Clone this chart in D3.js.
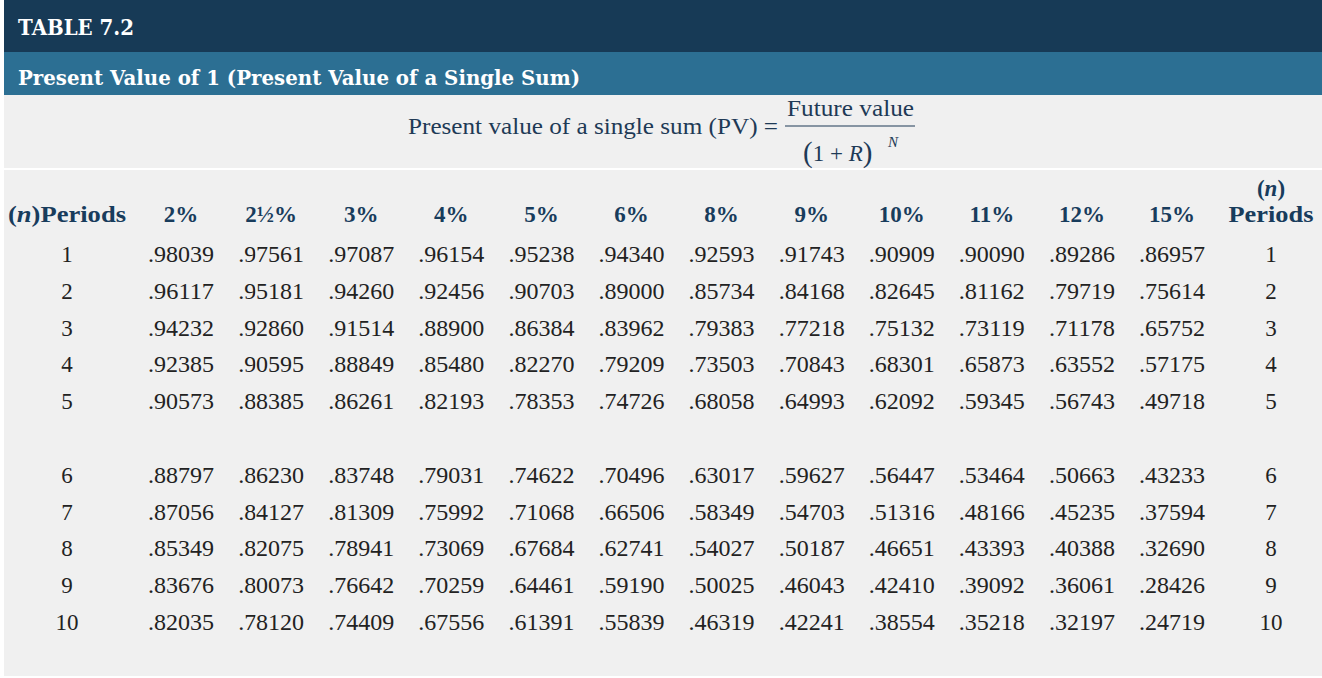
<!DOCTYPE html>
<html><head><meta charset="utf-8">
<script src="https://cdn.jsdelivr.net/npm/d3@7"></script>
<style>
html,body{margin:0;padding:0;background:#fff;}
svg{display:block;}
</style></head>
<body>
<svg id="c" width="1322" height="678"></svg>
<script>
const title = "TABLE 7.2";
const subtitle = "Present Value of 1 (Present Value of a Single Sum)";
const rates = ["2%","2½%","3%","4%","5%","6%","8%","9%","10%","11%","12%","15%"];
const periods = [1,2,3,4,5,6,7,8,9,10];
const row1  = [".98039",".97561",".97087",".96154",".95238",".94340",".92593",".91743",".90909",".90090",".89286",".86957"];
const row2  = [".96117",".95181",".94260",".92456",".90703",".89000",".85734",".84168",".82645",".81162",".79719",".75614"];
const row3  = [".94232",".92860",".91514",".88900",".86384",".83962",".79383",".77218",".75132",".73119",".71178",".65752"];
const row4  = [".92385",".90595",".88849",".85480",".82270",".79209",".73503",".70843",".68301",".65873",".63552",".57175"];
const row5  = [".90573",".88385",".86261",".82193",".78353",".74726",".68058",".64993",".62092",".59345",".56743",".49718"];
const row6  = [".88797",".86230",".83748",".79031",".74622",".70496",".63017",".59627",".56447",".53464",".50663",".43233"];
const row7  = [".87056",".84127",".81309",".75992",".71068",".66506",".58349",".54703",".51316",".48166",".45235",".37594"];
const row8  = [".85349",".82075",".78941",".73069",".67684",".62741",".54027",".50187",".46651",".43393",".40388",".32690"];
const row9  = [".83676",".80073",".76642",".70259",".64461",".59190",".50025",".46043",".42410",".39092",".36061",".28426"];
const row10 = [".82035",".78120",".74409",".67556",".61391",".55839",".46319",".42241",".38554",".35218",".32197",".24719"];
const rows = [row1,row2,row3,row4,row5,row6,row7,row8,row9,row10];

const svg = d3.select("#c");
const W = 1322, H = 678;
const navy = "#173a56", mid = "#2c6f93", bg = "#f0f0f0", hdr = "#183c5c", ink = "#222";
const serif = "'Liberation Serif','Times New Roman',serif";
const heavy = "'DejaVu Serif',serif";

// backgrounds
svg.append("rect").attr("x",4).attr("y",0).attr("width",W-4).attr("height",52).attr("fill",navy);
svg.append("rect").attr("x",4).attr("y",52).attr("width",W-4).attr("height",43).attr("fill",mid);
svg.append("rect").attr("x",4).attr("y",95).attr("width",W-4).attr("height",73).attr("fill",bg);
svg.append("rect").attr("x",4).attr("y",170).attr("width",W-4).attr("height",H-172).attr("fill",bg);

svg.append("text").attr("x",18).attr("y",35).text(title)
  .attr("fill","#fff").attr("font-family",heavy).attr("font-weight","bold").attr("font-size",22)
  .attr("textLength",116).attr("lengthAdjust","spacingAndGlyphs");
svg.append("text").attr("x",18).attr("y",85).text(subtitle)
  .attr("fill","#fff").attr("font-family",heavy).attr("font-weight","bold").attr("font-size",21)
  .attr("textLength",562).attr("lengthAdjust","spacingAndGlyphs");

// formula
const fc = "#1e3a56";
svg.append("text").attr("x",408).attr("y",134)
  .attr("font-family",serif).attr("font-size",23).attr("fill",fc)
  .attr("textLength",370).attr("lengthAdjust","spacingAndGlyphs")
  .text("Present value of a single sum (PV) =");
svg.append("text").attr("x",787).attr("y",116)
  .attr("font-family",serif).attr("font-size",23).attr("fill",fc)
  .attr("textLength",127).attr("lengthAdjust","spacingAndGlyphs").text("Future value");
svg.append("line").attr("x1",785).attr("x2",915).attr("y1",126).attr("y2",126)
  .attr("stroke",fc).attr("stroke-width",1.2);
const den = svg.append("text").attr("x",803).attr("y",161)
  .attr("font-family",serif).attr("font-size",23).attr("fill",fc);
den.append("tspan").text("(").attr("font-size",29).attr("dy",1);
den.append("tspan").text("1 + ").attr("dy",-1);
den.append("tspan").text("R").attr("font-style","italic");
den.append("tspan").text(")").attr("font-size",29).attr("dy",1);
svg.append("text").attr("x",888).attr("y",147).attr("font-family",serif).attr("font-style","italic")
  .attr("font-size",15).attr("fill",fc).text("N");

// scales
const x = d3.scaleBand().domain(rates).range([136,1217]);
const rowKeys = ["1","2","3","4","5","gap","6","7","8","9","10"];
const y = d3.scalePoint().domain(rowKeys).range([254,622]);
const xLeft = 67, xRight = 1271;

// header
const hy = 222;
const hl = svg.append("text").attr("x",8).attr("y",hy).attr("font-family",serif)
  .attr("font-weight","bold").attr("font-size",23).attr("fill",hdr)
  .attr("textLength",118).attr("lengthAdjust","spacingAndGlyphs");
hl.append("tspan").text("(");
hl.append("tspan").text("n").attr("font-style","italic");
hl.append("tspan").text(")Periods");
svg.append("g").selectAll("text").data(rates).join("text")
  .attr("x",d=>x(d)+x.bandwidth()/2).attr("y",hy).attr("text-anchor","middle")
  .attr("font-family",serif).attr("font-weight","bold").attr("font-size",23).attr("fill",hdr)
  .text(d=>d);
const hr1 = svg.append("text").attr("x",xRight).attr("y",196).attr("text-anchor","middle")
  .attr("font-family",serif).attr("font-weight","bold").attr("font-size",23).attr("fill",hdr);
hr1.append("tspan").text("(");
hr1.append("tspan").text("n").attr("font-style","italic");
hr1.append("tspan").text(")");
svg.append("text").attr("x",xRight).attr("y",hy).attr("text-anchor","middle")
  .attr("font-family",serif).attr("font-weight","bold").attr("font-size",23).attr("fill",hdr)
  .attr("textLength",85).attr("lengthAdjust","spacingAndGlyphs")
  .text("Periods");

// body
const body = svg.append("g").attr("font-family",serif).attr("font-size",23).attr("fill",ink);
periods.forEach((p,i)=>{
  const yy = y(String(p)) + 8;
  body.append("text").attr("x",xLeft).attr("y",yy).attr("text-anchor","middle").text(p);
  body.append("text").attr("x",xRight).attr("y",yy).attr("text-anchor","middle").text(p);
  body.selectAll(null).data(rows[i]).join("text")
    .attr("x",(d,j)=>x(rates[j])+x.bandwidth()/2).attr("y",yy).attr("text-anchor","middle")
    .attr("textLength",66).attr("lengthAdjust","spacingAndGlyphs")
    .text(d=>d);
});
</script>
</body></html>
